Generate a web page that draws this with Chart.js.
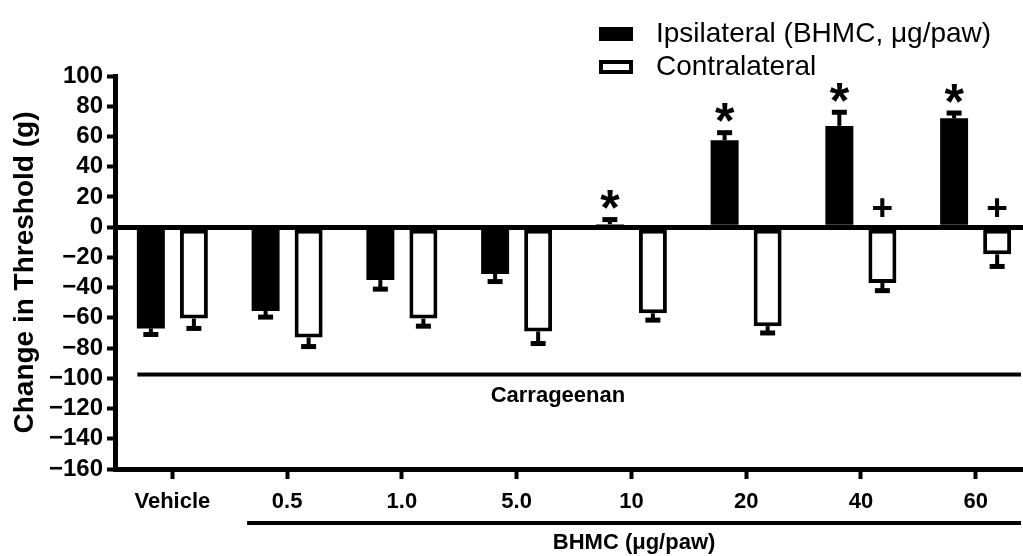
<!DOCTYPE html>
<html><head><meta charset="utf-8">
<script src="https://cdn.jsdelivr.net/npm/chart.js@4.4.0/dist/chart.umd.min.js"></script>
<style>
html,body{margin:0;padding:0;background:#fff;overflow:hidden;width:1023px;height:556px}
#wrap{position:relative;width:1040px;height:556px}
canvas{display:block}
</style></head>
<body><div id="wrap"><canvas id="c" width="1040" height="556"></canvas></div>
<script>
const categories = ['Vehicle', '0.5', '1.0', '5.0', '10', '20', '40', '60'];
const ipsilateral = [-67, -55.5, -35, -31, 2, 57.5, 67, 72];
const ipsilateralSEM = [4, 4, 6, 5, 3, 5, 9, 3.5];
const contralateral = [-60.5, -73, -60.5, -69, -57, -65.5, -37, -18];
const contralateralSEM = [6.5, 6, 5, 8, 4.5, 4.5, 5, 8];
const ipsilateralMarks = ['', '', '', '', '*', '*', '*', '*'];
const contralateralMarks = ['', '', '', '', '', '', '+', '+'];
const seriesLabels = ['Ipsilateral (BHMC, μg/paw)', 'Contralateral'];
const yMin = -160, yMax = 100, yStep = 20;
const yTitle = 'Change in Threshold (g)';
const carrageenanLevel = -97.5;
const carrageenanLabel = 'Carrageenan';
const bhmcLabel = 'BHMC (μg/paw)';

const FONT = "'Liberation Sans', Arial, Helvetica, sans-serif";
const semSets = [ipsilateralSEM, contralateralSEM];
const markSets = [ipsilateralMarks, contralateralMarks];

const extras = {
  id: 'extras',
  afterDatasetsDraw(chart) {
    const ctx = chart.ctx, x = chart.scales.x, y = chart.scales.y, area = chart.chartArea;
    ctx.save();
    ctx.fillStyle = '#000';
    // error bars
    chart.data.datasets.forEach((ds, di) => {
      const meta = chart.getDatasetMeta(di);
      meta.data.forEach((bar, i) => {
        const v = ds.data[i], e = semSets[di][i];
        const end = v + (v >= 0 ? e : -e);
        const y0 = y.getPixelForValue(v), y1 = y.getPixelForValue(end);
        ctx.fillRect(bar.x - 2, Math.min(y0, y1), 4, Math.abs(y1 - y0));
        ctx.fillRect(bar.x - 7.5, y1 - 2.5, 15, 5);
        // significance marks
        const mark = markSets[di][i];
        if (mark) {
          const top = v >= 0 ? y.getPixelForValue(end) - 20 : y.getPixelForValue(0) - 20;
          ctx.font = 'bold ' + (mark === '*' ? 50 : 37) + 'px ' + FONT;
          ctx.textAlign = 'center';
          ctx.textBaseline = 'alphabetic';
          const m = ctx.measureText(mark);
          const by = top + (m.actualBoundingBoxAscent - m.actualBoundingBoxDescent) / 2;
          ctx.fillText(mark, bar.x, by);
        }
      });
    });
    // Carrageenan line
    const cy = y.getPixelForValue(carrageenanLevel);
    const cx0 = x.getPixelForValue(0) - 35;
    ctx.fillRect(cx0, cy - 2, area.right - 12 - cx0, 4);
    ctx.font = 'bold 22px ' + FONT;
    ctx.textAlign = 'center';
    ctx.textBaseline = 'middle';
    ctx.fillText(carrageenanLabel, x.getPixelForValue(3) + 0.36 * (x.getPixelForValue(4) - x.getPixelForValue(3)), cy + 21);
    // BHMC line
    const bx0 = x.getPixelForValue(1) - 40;
    const by = area.bottom + 54;
    ctx.fillRect(bx0, by - 2, area.right - 12 - bx0, 4);
    ctx.fillText(bhmcLabel, (bx0 + area.right - 12) / 2, by + 20);
    // legend
    ctx.textAlign = 'left';
    ctx.font = '28px ' + FONT;
    chart.data.datasets.forEach((ds, di) => {
      const ly = 34 + di * 33;
      if (di === 0) {
        ctx.fillStyle = ds.backgroundColor;
        ctx.fillRect(599, ly - 7, 34, 14);
      } else {
        ctx.fillStyle = '#fff';
        ctx.fillRect(599, ly - 7, 34, 14);
        ctx.strokeStyle = '#000';
        ctx.lineWidth = 4;
        ctx.strokeRect(601, ly - 5, 30, 10);
      }
      ctx.fillStyle = '#000';
      ctx.textBaseline = 'middle';
      ctx.fillText(ds.label, 656, ly);
    });
    ctx.restore();
  }
};

new Chart(document.getElementById('c'), {
  type: 'bar',
  data: {
    labels: categories,
    datasets: [
      { label: seriesLabels[0], data: ipsilateral, backgroundColor: '#000', borderColor: '#000', borderWidth: 0,
        categoryPercentage: 0.75, barPercentage: 0.65 },
      { label: seriesLabels[1], data: contralateral, backgroundColor: '#fff', borderColor: '#000', borderWidth: 4,
        borderSkipped: false, categoryPercentage: 0.75, barPercentage: 0.65 }
    ]
  },
  options: {
    responsive: false,
    animation: false,
    devicePixelRatio: 1,
    layout: { padding: { top: 76, right: 7, left: 0, bottom: 0 } },
    plugins: { legend: { display: false }, tooltip: { enabled: false } },
    scales: {
      x: {
        offset: true,
        grid: { offset: false, color: 'rgba(0,0,0,0)', drawTicks: true, tickColor: '#000', tickWidth: 4, tickLength: 10 },
        border: { display: true, color: '#000', width: 5 },
        ticks: { color: '#000', font: { family: FONT, size: 22, weight: 'bold' }, padding: 10, maxRotation: 0, autoSkip: false },
        afterFit(s) { s.height = 87; }
      },
      y: {
        min: yMin, max: yMax,
        grid: {
          color: (c) => c.tick && c.tick.value === 0 ? '#000' : 'rgba(0,0,0,0)',
          lineWidth: (c) => c.tick && c.tick.value === 0 ? 5 : 1,
          tickColor: '#000', tickWidth: 4, tickLength: 8
        },
        border: { display: true, color: '#000', width: 5 },
        ticks: {
          stepSize: yStep, color: '#000', padding: 4, autoSkip: false,
          font: { family: FONT, size: 24, weight: 'bold' },
          callback: (v) => (v < 0 ? '\u2212' + Math.abs(v) : String(v))
        },
        title: { display: true, text: yTitle, color: '#000', font: { family: FONT, size: 28, weight: 'bold' }, padding: { top: 8, bottom: 0 } },
        afterFit(s) { s.width = 115; }
      }
    }
  },
  plugins: [extras]
});
</script>
</body></html>
